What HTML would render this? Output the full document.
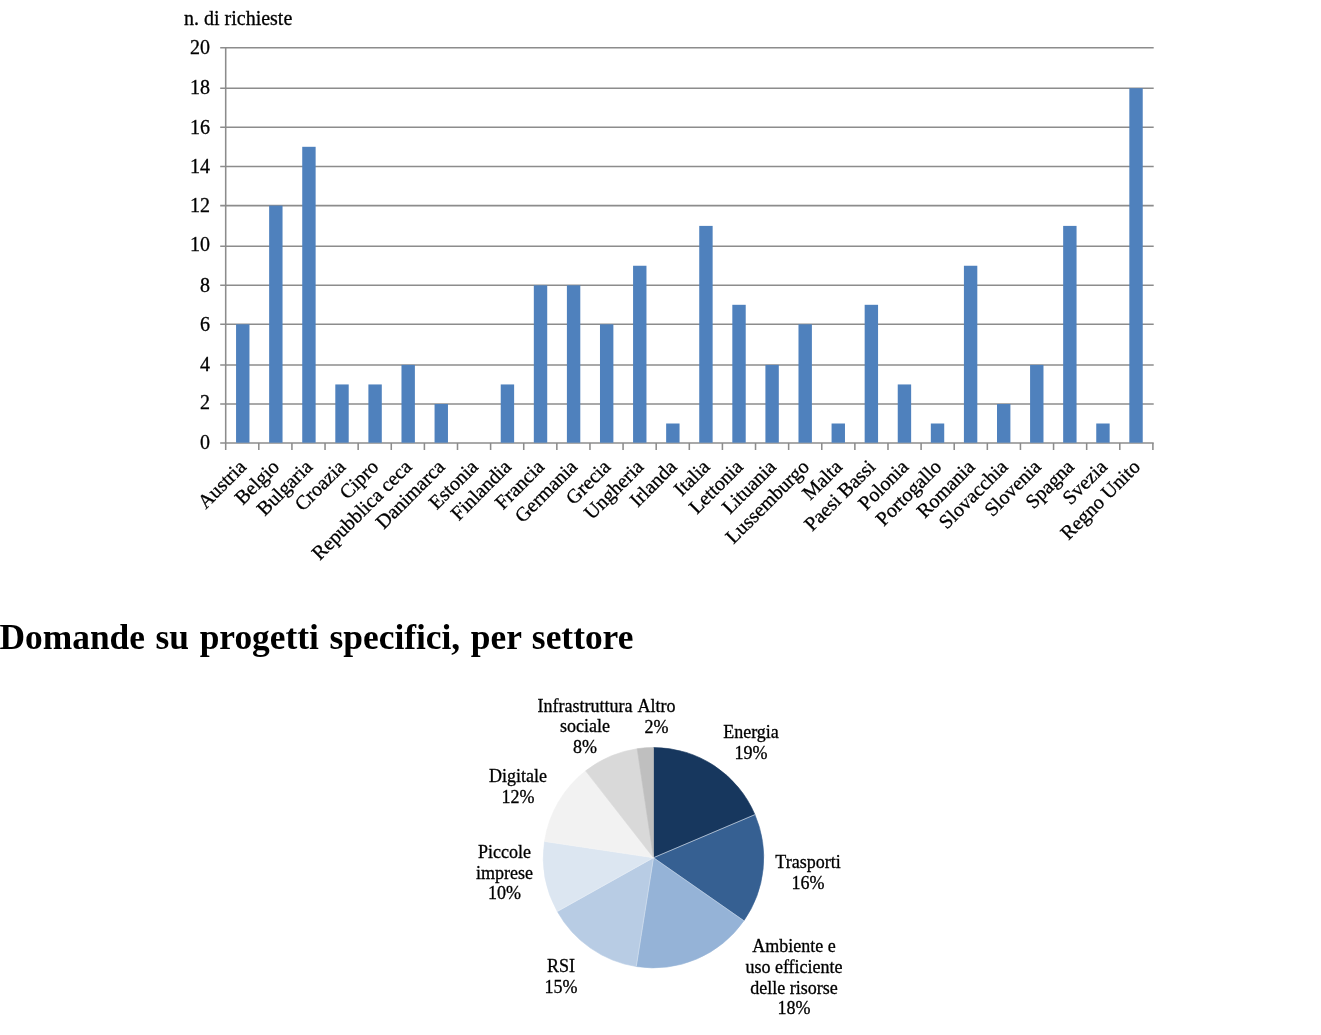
<!DOCTYPE html>
<html lang="it"><head><meta charset="utf-8"><title>Domande su progetti specifici, per settore</title>
<style>html,body{margin:0;padding:0;background:#fff}body{width:1321px;height:1035px;overflow:hidden}svg{display:block;filter:blur(0.4px)}text{font-family:"Liberation Serif","Times New Roman",serif;fill:#000}.t text{stroke:#000;stroke-width:0.30px}</style></head><body>
<svg width="1321" height="1035" viewBox="0 0 1321 1035">
<rect width="1321" height="1035" fill="#fff"/>
<g stroke="#8c8c8c" stroke-width="1.55" fill="none">
<line x1="220.2" y1="443.00" x2="1153.7" y2="443.00"/>
<line x1="220.2" y1="404.00" x2="1153.7" y2="404.00"/>
<line x1="220.2" y1="364.90" x2="1153.7" y2="364.90"/>
<line x1="220.2" y1="324.30" x2="1153.7" y2="324.30"/>
<line x1="220.2" y1="285.30" x2="1153.7" y2="285.30"/>
<line x1="220.2" y1="246.20" x2="1153.7" y2="246.20"/>
<line x1="220.2" y1="205.60" x2="1153.7" y2="205.60"/>
<line x1="220.2" y1="166.40" x2="1153.7" y2="166.40"/>
<line x1="220.2" y1="127.20" x2="1153.7" y2="127.20"/>
<line x1="220.2" y1="88.20" x2="1153.7" y2="88.20"/>
<line x1="220.2" y1="47.70" x2="1153.7" y2="47.70"/>
<line x1="225.7" y1="47.70" x2="225.7" y2="450.00"/>
<line x1="258.81" y1="443.00" x2="258.81" y2="450.00"/>
<line x1="291.93" y1="443.00" x2="291.93" y2="450.00"/>
<line x1="325.04" y1="443.00" x2="325.04" y2="450.00"/>
<line x1="358.16" y1="443.00" x2="358.16" y2="450.00"/>
<line x1="391.27" y1="443.00" x2="391.27" y2="450.00"/>
<line x1="424.39" y1="443.00" x2="424.39" y2="450.00"/>
<line x1="457.50" y1="443.00" x2="457.50" y2="450.00"/>
<line x1="490.61" y1="443.00" x2="490.61" y2="450.00"/>
<line x1="523.73" y1="443.00" x2="523.73" y2="450.00"/>
<line x1="556.84" y1="443.00" x2="556.84" y2="450.00"/>
<line x1="589.96" y1="443.00" x2="589.96" y2="450.00"/>
<line x1="623.07" y1="443.00" x2="623.07" y2="450.00"/>
<line x1="656.19" y1="443.00" x2="656.19" y2="450.00"/>
<line x1="689.30" y1="443.00" x2="689.30" y2="450.00"/>
<line x1="722.41" y1="443.00" x2="722.41" y2="450.00"/>
<line x1="755.53" y1="443.00" x2="755.53" y2="450.00"/>
<line x1="788.64" y1="443.00" x2="788.64" y2="450.00"/>
<line x1="821.76" y1="443.00" x2="821.76" y2="450.00"/>
<line x1="854.87" y1="443.00" x2="854.87" y2="450.00"/>
<line x1="887.99" y1="443.00" x2="887.99" y2="450.00"/>
<line x1="921.10" y1="443.00" x2="921.10" y2="450.00"/>
<line x1="954.21" y1="443.00" x2="954.21" y2="450.00"/>
<line x1="987.33" y1="443.00" x2="987.33" y2="450.00"/>
<line x1="1020.44" y1="443.00" x2="1020.44" y2="450.00"/>
<line x1="1053.56" y1="443.00" x2="1053.56" y2="450.00"/>
<line x1="1086.67" y1="443.00" x2="1086.67" y2="450.00"/>
<line x1="1119.79" y1="443.00" x2="1119.79" y2="450.00"/>
<line x1="1152.90" y1="443.00" x2="1152.90" y2="450.00"/>
</g>
<g fill="#4f81bd">
<rect x="236.06" y="324.30" width="13.40" height="118.40"/>
<rect x="269.14" y="205.60" width="13.40" height="237.10"/>
<rect x="302.23" y="146.80" width="13.40" height="295.90"/>
<rect x="335.31" y="384.45" width="13.40" height="58.25"/>
<rect x="368.39" y="384.45" width="13.40" height="58.25"/>
<rect x="401.48" y="364.90" width="13.40" height="77.80"/>
<rect x="434.56" y="404.00" width="13.40" height="38.70"/>
<rect x="500.73" y="384.45" width="13.40" height="58.25"/>
<rect x="533.82" y="285.30" width="13.40" height="157.40"/>
<rect x="566.90" y="285.30" width="13.40" height="157.40"/>
<rect x="599.98" y="324.30" width="13.40" height="118.40"/>
<rect x="633.07" y="265.75" width="13.40" height="176.95"/>
<rect x="666.15" y="423.50" width="13.40" height="19.20"/>
<rect x="699.24" y="225.90" width="13.40" height="216.80"/>
<rect x="732.32" y="304.80" width="13.40" height="137.90"/>
<rect x="765.41" y="364.90" width="13.40" height="77.80"/>
<rect x="798.49" y="324.30" width="13.40" height="118.40"/>
<rect x="831.57" y="423.50" width="13.40" height="19.20"/>
<rect x="864.66" y="304.80" width="13.40" height="137.90"/>
<rect x="897.74" y="384.45" width="13.40" height="58.25"/>
<rect x="930.83" y="423.50" width="13.40" height="19.20"/>
<rect x="963.91" y="265.75" width="13.40" height="176.95"/>
<rect x="997.00" y="404.00" width="13.40" height="38.70"/>
<rect x="1030.08" y="364.90" width="13.40" height="77.80"/>
<rect x="1063.16" y="225.90" width="13.40" height="216.80"/>
<rect x="1096.25" y="423.50" width="13.40" height="19.20"/>
<rect x="1129.33" y="88.20" width="13.40" height="354.50"/>
</g>
<g class="t">
<g font-size="20" text-anchor="end">
<text x="210" y="449.2">0</text>
<text x="210" y="409.3">2</text>
<text x="210" y="371.1">4</text>
<text x="210" y="331.1">6</text>
<text x="210" y="292.1">8</text>
<text x="210" y="251.3">10</text>
<text x="210" y="212.4">12</text>
<text x="210" y="173.2">14</text>
<text x="210" y="133.6">16</text>
<text x="210" y="94.2">18</text>
<text x="210" y="53.9">20</text>
</g>
<text x="184" y="24.8" font-size="20">n. di richieste</text>
<g font-size="20" text-anchor="end">
<text transform="translate(247.3 468.0) rotate(-45)">Austria</text>
<text transform="translate(280.4 468.0) rotate(-45)">Belgio</text>
<text transform="translate(313.5 468.0) rotate(-45)">Bulgaria</text>
<text transform="translate(346.6 468.0) rotate(-45)">Croazia</text>
<text transform="translate(379.7 468.0) rotate(-45)">Cipro</text>
<text transform="translate(412.8 468.0) rotate(-45)">Repubblica ceca</text>
<text transform="translate(445.9 468.0) rotate(-45)">Danimarca</text>
<text transform="translate(479.1 468.0) rotate(-45)">Estonia</text>
<text transform="translate(512.2 468.0) rotate(-45)">Finlandia</text>
<text transform="translate(545.3 468.0) rotate(-45)">Francia</text>
<text transform="translate(578.4 468.0) rotate(-45)">Germania</text>
<text transform="translate(611.5 468.0) rotate(-45)">Grecia</text>
<text transform="translate(644.6 468.0) rotate(-45)">Ungheria</text>
<text transform="translate(677.7 468.0) rotate(-45)">Irlanda</text>
<text transform="translate(710.9 468.0) rotate(-45)">Italia</text>
<text transform="translate(744.0 468.0) rotate(-45)">Lettonia</text>
<text transform="translate(777.1 468.0) rotate(-45)">Lituania</text>
<text transform="translate(810.2 468.0) rotate(-45)">Lussemburgo</text>
<text transform="translate(843.3 468.0) rotate(-45)">Malta</text>
<text transform="translate(876.4 468.0) rotate(-45)">Paesi Bassi</text>
<text transform="translate(909.5 468.0) rotate(-45)">Polonia</text>
<text transform="translate(942.7 468.0) rotate(-45)">Portogallo</text>
<text transform="translate(975.8 468.0) rotate(-45)">Romania</text>
<text transform="translate(1008.9 468.0) rotate(-45)">Slovacchia</text>
<text transform="translate(1042.0 468.0) rotate(-45)">Slovenia</text>
<text transform="translate(1075.1 468.0) rotate(-45)">Spagna</text>
<text transform="translate(1108.2 468.0) rotate(-45)">Svezia</text>
<text transform="translate(1141.3 468.0) rotate(-45)">Regno Unito</text>
</g>
</g>
<text x="-0.5" y="648.7" font-size="35.4" font-weight="bold" word-spacing="1.75">Domande su progetti specifici, per settore</text>
<g stroke-width="0.6">
<path d="M653.50 857.70 L653.50 747.50 A110.20 110.20 0 0 1 754.94 814.64 Z" fill="#17375e" stroke="#17375e"/>
<path d="M653.50 857.70 L754.94 814.64 A110.20 110.20 0 0 1 743.88 920.75 Z" fill="#366092" stroke="#366092"/>
<path d="M653.50 857.70 L743.88 920.75 A110.20 110.20 0 0 1 636.26 966.54 Z" fill="#95b3d7" stroke="#95b3d7"/>
<path d="M653.50 857.70 L636.26 966.54 A110.20 110.20 0 0 1 557.30 911.46 Z" fill="#b8cce4" stroke="#b8cce4"/>
<path d="M653.50 857.70 L557.30 911.46 A110.20 110.20 0 0 1 544.51 841.41 Z" fill="#dce6f1" stroke="#dce6f1"/>
<path d="M653.50 857.70 L544.51 841.41 A110.20 110.20 0 0 1 585.65 770.86 Z" fill="#f2f2f2" stroke="#f2f2f2"/>
<path d="M653.50 857.70 L585.65 770.86 A110.20 110.20 0 0 1 637.21 748.71 Z" fill="#d9d9d9" stroke="#d9d9d9"/>
<path d="M653.50 857.70 L637.21 748.71 A110.20 110.20 0 0 1 653.50 747.50 Z" fill="#bfbfbf" stroke="#bfbfbf"/>
</g>
<g stroke="#fff" fill="none">
<line x1="653.50" y1="857.70" x2="754.94" y2="814.64" stroke-opacity="0.80" stroke-width="0.70"/>
<line x1="653.50" y1="857.70" x2="743.88" y2="920.75" stroke-opacity="0.55" stroke-width="0.60"/>
<line x1="653.50" y1="857.70" x2="636.26" y2="966.54" stroke-opacity="0.45" stroke-width="0.60"/>
<line x1="653.50" y1="857.70" x2="557.30" y2="911.46" stroke-opacity="0.40" stroke-width="0.60"/>
<line x1="653.50" y1="857.70" x2="544.51" y2="841.41" stroke-opacity="0.20" stroke-width="0.60"/>
</g>
<g class="t" font-size="18" text-anchor="middle">
<text x="585.0" y="711.5">Infrastruttura</text>
<text x="585.0" y="732.3">sociale</text>
<text x="585.0" y="753.1">8%</text>
<text x="656.5" y="711.5">Altro</text>
<text x="656.5" y="732.8">2%</text>
<text x="751.0" y="738.0">Energia</text>
<text x="751.0" y="758.6">19%</text>
<text x="808.0" y="867.7">Trasporti</text>
<text x="808.0" y="889.2">16%</text>
<text x="794.0" y="952.3">Ambiente e</text>
<text x="794.0" y="973.0">uso efficiente</text>
<text x="794.0" y="993.7">delle risorse</text>
<text x="794.0" y="1014.4">18%</text>
<text x="561.0" y="972.0">RSI</text>
<text x="561.0" y="992.5">15%</text>
<text x="504.5" y="858.0">Piccole</text>
<text x="504.5" y="878.7">imprese</text>
<text x="504.5" y="899.4">10%</text>
<text x="518.0" y="782.0">Digitale</text>
<text x="518.0" y="803.4">12%</text>
</g>
</svg></body></html>
